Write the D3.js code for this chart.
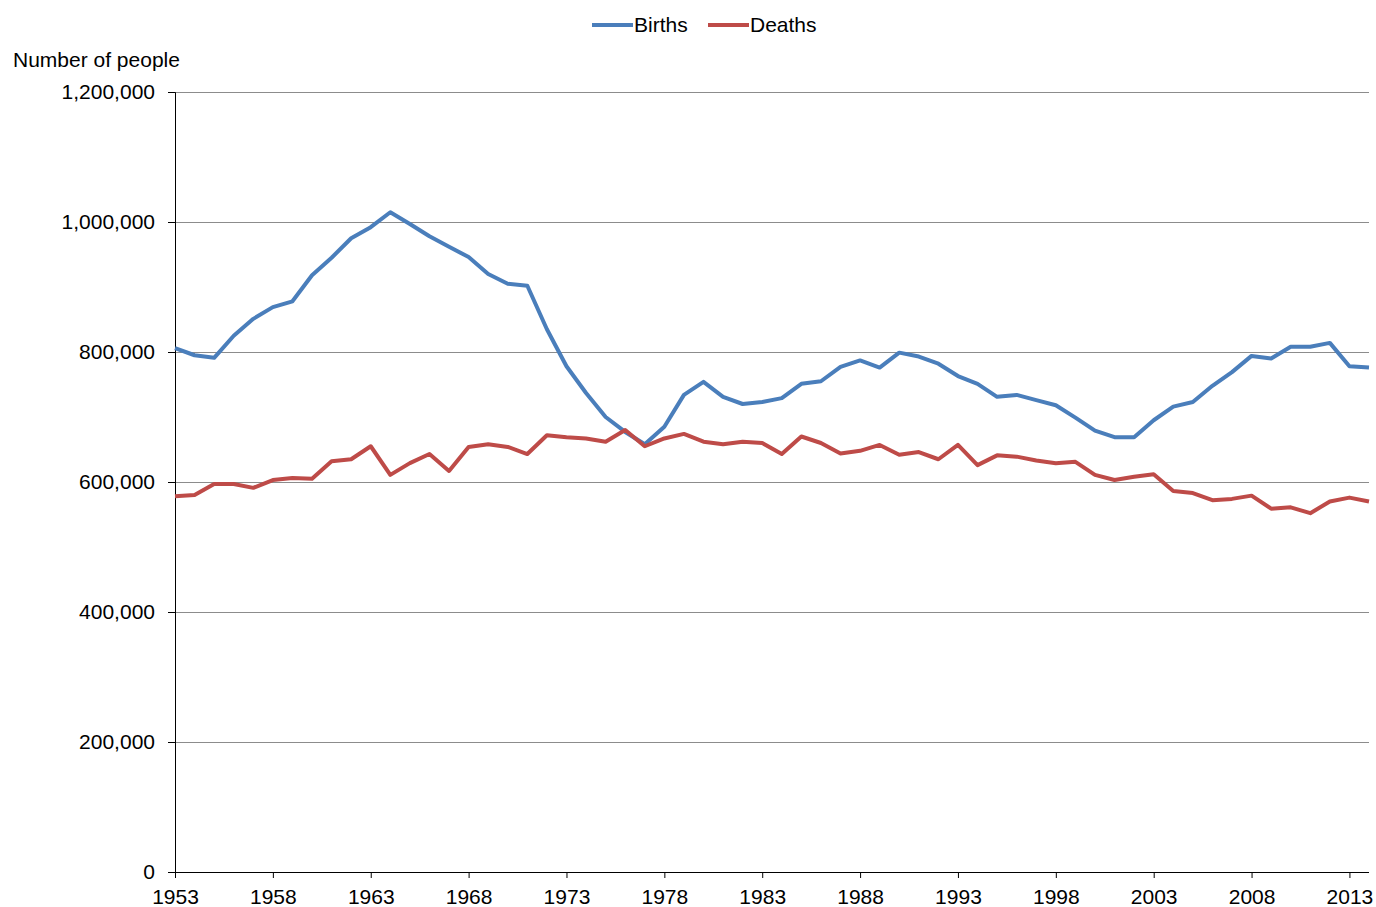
<!DOCTYPE html>
<html lang="en">
<head>
<meta charset="UTF-8">
<title>Births and Deaths</title>
<style>
  body { margin: 0; background: #fff; }
  svg text { font-family: "Liberation Sans", Arial, sans-serif; fill: #000; }
</style>
</head>
<body>
<div id="chart"></div>
<script src="https://cdnjs.cloudflare.com/ajax/libs/d3/7.8.5/d3.min.js"></script>
<script>
// data
const years = d3.range(1953, 2015);
const births = [
  806000, 795000, 791000, 825000, 851000, 869000, 878000, 918000, 945000, 975000,
  992000, 1015000, 997000, 978000, 962000, 946000, 920000, 905000, 902000, 835000,
  778000, 737000, 700000, 677000, 658000, 685000, 734000, 754000, 731000, 720000,
  723000, 729000, 751000, 755000, 777000, 787000, 776000, 799000, 793000, 782000,
  763000, 751000, 731000, 734000, 726000, 718000, 699000, 679000, 669000, 669000,
  695000, 716000, 723000, 748000, 769000, 794000, 790000, 808000, 808000, 814000,
  778000, 776000
];
const deaths = [
  578000, 580000, 597000, 597000, 591000, 603000, 606000, 605000, 632000, 635000,
  655000, 611000, 629000, 643000, 617000, 654000, 658000, 654000, 643000, 672000,
  669000, 667000, 662000, 680000, 655000, 667000, 674000, 662000, 658000, 662000,
  660000, 643000, 670000, 660000, 644000, 648000, 657000, 642000, 646000, 635000,
  657000, 626000, 641000, 639000, 633000, 629000, 631000, 611000, 603000, 608000,
  612000, 586000, 583000, 572000, 574000, 579000, 559000, 561000, 552000, 570000,
  576000, 570000
];
const yTicks = [0, 200000, 400000, 600000, 800000, 1000000, 1200000];
const xTicks = [1953, 1958, 1963, 1968, 1973, 1978, 1983, 1988, 1993, 1998, 2003, 2008, 2013];

const series = [
  { name: "Births", values: births, color: "#4a7ebb" },
  { name: "Deaths", values: deaths, color: "#be4b48" }
];

const W = 1376, H = 907;
const margin = { top: 92, right: 7, bottom: 35, left: 175 };
const width = W - margin.left - margin.right;
const height = H - margin.top - margin.bottom;

const svg = d3.select("#chart").append("svg")
  .attr("width", W)
  .attr("height", H);

const g = svg.append("g")
  .attr("transform", `translate(${margin.left},${margin.top})`);

const x = d3.scaleLinear().domain([1953, 2014]).range([0, width]);
const y = d3.scaleLinear().domain([0, 1200000]).range([height, 0]);

// grid lines
g.append("g")
  .selectAll("line")
  .data(yTicks.filter(d => d > 0))
  .join("line")
  .attr("x1", 0)
  .attr("x2", width)
  .attr("y1", d => y(d) + 0.5)
  .attr("y2", d => y(d) + 0.5)
  .attr("stroke", "#8c8c8c")
  .attr("stroke-width", 1);

// y axis
const yAxis = g.append("g")
  .call(d3.axisLeft(y).tickValues(yTicks).tickSize(7).tickPadding(13)
    .tickFormat(d3.format(",")));
yAxis.selectAll("text").style("font-size", "21px");
yAxis.selectAll("line, path").attr("stroke", "#000");
yAxis.select(".domain").attr("d", `M-7,0.5H0.5V${height}`);

// x axis
const xAxis = g.append("g")
  .attr("transform", `translate(0,${height})`)
  .call(d3.axisBottom(x).tickValues(xTicks).tickSize(6).tickPadding(11)
    .tickFormat(d3.format("d")));
xAxis.selectAll("text").style("font-size", "21px");
xAxis.selectAll("line, path").attr("stroke", "#000");
xAxis.select(".domain").attr("d", `M0,0.5H${width}`);

// lines
const line = d3.line()
  .x((d, i) => x(years[i]))
  .y(d => y(d));

g.selectAll(".series")
  .data(series)
  .join("path")
  .attr("class", "series")
  .attr("fill", "none")
  .attr("stroke", d => d.color)
  .attr("stroke-width", 4)
  .attr("stroke-linejoin", "round")
  .attr("d", d => line(d.values));

// axis title
svg.append("text")
  .attr("x", 13)
  .attr("y", 67)
  .style("font-size", "21px")
  .text("Number of people");

// legend
const legendPos = [592, 708];
const legend = svg.append("g")
  .selectAll("g")
  .data(series)
  .join("g")
  .attr("transform", (d, i) => `translate(${legendPos[i]},25)`);
legend.append("line")
  .attr("x1", 0).attr("x2", 41)
  .attr("stroke", d => d.color)
  .attr("stroke-width", 4);
legend.append("text")
  .attr("x", 42)
  .attr("dy", "0.35em")
  .style("font-size", "21px")
  .text(d => d.name);
</script>
</body>
</html>
